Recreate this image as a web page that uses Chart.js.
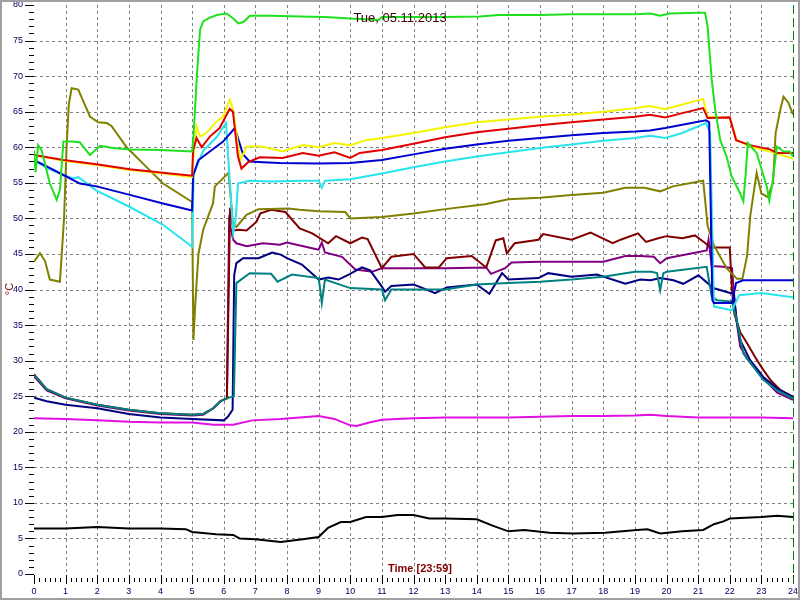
<!DOCTYPE html>
<html lang="en">
<head>
    <meta charset="UTF-8">
    <title>Tue, 05.11.2013</title>
    <script src="https://cdn.jsdelivr.net/npm/chart.js"></script>
    <style>
        html, body { margin: 0; padding: 0; background: #fff; }
        #wrap { width: 800px; height: 600px; }
    </style>
</head>
<body>
    <div id="wrap"><canvas id="tempChart" width="800" height="600"></canvas></div>

    <script>
        const chartTitle = 'Tue, 05.11.2013';
        const timeTitle = 'Time [23:59]';
        const tempTitle = '°C';

        // axis ranges / tick steps
        const hourTicks = [0, 24, 1];
        const tempTicks = [0, 80, 5];

        // sensor readings: hour of day / temperature
        const limeHours = [0, 0.05, 0.13, 0.24, 0.5, 0.72, 0.82, 0.93, 1.2, 1.45, 1.77, 2.09, 2.5, 3.04, 4.0, 5.0, 5.05, 5.15, 5.25, 5.35, 5.55, 5.78, 6.09, 6.3, 6.46, 6.62, 6.83, 7.5, 8.4, 9.2, 10.0, 10.9, 11.0, 12.0, 13.0, 14.1, 14.7, 16.0, 17.0, 18.0, 19.0, 19.5, 19.8, 20.1, 21.0, 21.22, 21.3, 21.43, 21.54, 21.7, 21.9, 22.06, 22.33, 22.43, 22.5, 22.57, 22.85, 23.17, 23.25, 23.35, 23.49, 23.7, 23.9, 24.0];
        const limeTemps = [59.5, 56.5, 60.3, 59.6, 54.9, 52.6, 54.0, 60.8, 60.8, 60.7, 58.9, 60.2, 59.9, 59.7, 59.6, 59.4, 62, 70, 76.5, 77.7, 78.2, 78.6, 78.8, 78.1, 77.4, 77.6, 78.5, 78.5, 78.4, 78.3, 78.1, 77.9, 78.3, 78.3, 78.3, 78.4, 78.6, 78.6, 78.7, 78.7, 78.7, 78.8, 78.5, 78.8, 78.9, 78.9, 77, 69.5, 65.3, 61.0, 58.7, 55.9, 53.5, 52.4, 56, 60.6, 59.2, 54.5, 52.5, 55, 60.1, 59.4, 59.4, 58.7];

        const yellowHours = [0, 0.93, 1.98, 3.03, 4.08, 5.0, 5.03, 5.14, 5.25, 5.45, 5.77, 5.98, 6.19, 6.29, 6.52, 6.73, 7.2, 7.86, 8.5, 9.0, 9.5, 10.0, 10.5, 11, 12, 13, 14, 15, 16, 17, 18, 19, 19.48, 19.96, 20.5, 21.16, 21.3, 22.0, 22.22, 22.64, 23.27, 24.0];
        const yellowTemps = [58.9, 58.1, 57.5, 56.8, 56.3, 55.8, 58.1, 62.9, 61.5, 62.0, 63.6, 64.3, 66.7, 65.4, 58.2, 60.1, 60.1, 59.4, 60.3, 60.0, 60.6, 60.3, 61.0, 61.3, 62.0, 62.8, 63.5, 63.9, 64.3, 64.6, 65.0, 65.5, 65.8, 65.35, 66.0, 66.8, 64.3, 64.1, 61.0, 60.1, 59.4, 58.4];

        const redHours = [0, 0.93, 1.98, 3.03, 4.08, 5.0, 5.03, 5.14, 5.3, 5.56, 5.87, 6.19, 6.29, 6.45, 6.56, 6.77, 7.14, 7.86, 8.5, 9.0, 9.5, 10.0, 10.3, 11, 12, 13, 14, 15, 16, 17, 18, 19, 19.48, 19.96, 20.5, 21.16, 21.3, 22.0, 22.2, 22.64, 23.27, 23.5, 24];
        const redTemps = [58.9, 58.2, 57.6, 56.9, 56.4, 56.0, 59.5, 61.3, 60.0, 61.5, 62.7, 65.4, 65.0, 58.7, 57.0, 57.9, 58.6, 58.5, 59.2, 58.8, 59.3, 58.5, 59.2, 59.6, 60.5, 61.4, 62.1, 62.6, 63.1, 63.5, 63.9, 64.3, 64.56, 64.2, 64.8, 65.5, 64.1, 64.2, 61.0, 60.3, 59.7, 59.2, 59.2];

        const blueHours = [0, 0.4, 0.93, 1.45, 1.98, 3.03, 4.08, 5.0, 5.03, 5.2, 5.56, 5.98, 6.35, 6.61, 6.82, 7.24, 7.77, 9, 10, 11, 12, 13, 14, 15, 16, 17, 18, 19, 19.48, 19.96, 20.5, 21.25, 21.35, 21.45, 21.5, 22.07, 22.2, 22.42, 23, 24];
        const blueTemps = [58.2, 57.3, 56.1, 54.9, 54.5, 53.3, 52.1, 51.1, 56.0, 58.2, 59.4, 60.8, 62.7, 59.0, 58.0, 57.9, 57.8, 57.7, 57.8, 58.2, 59.0, 59.8, 60.4, 60.9, 61.3, 61.7, 62.0, 62.2, 62.35, 62.7, 63.15, 63.8, 63.5, 38.5, 38.1, 38.1, 40.9, 41.3, 41.3, 41.3];

        const cyanHours = [0, 0.4, 0.93, 1.24, 1.4, 1.98, 3.03, 4.08, 5.0, 5.05, 5.35, 5.77, 6.07, 6.15, 6.3, 6.38, 6.45, 6.8, 7.5, 8.5, 9.0, 9.1, 9.2, 10, 11, 12, 13, 14, 15, 16, 17, 18, 19, 19.48, 19.96, 20.5, 21.25, 21.38, 21.5, 22.07, 22.17, 22.3, 23.0, 24.0];
        const cyanTemps = [58.2, 57.1, 56.1, 55.6, 55.8, 53.9, 51.6, 49.1, 46.0, 56.3, 59.5, 61.4, 63.4, 58, 48, 50, 54.9, 55.3, 55.2, 55.3, 55.3, 54.3, 55.3, 55.5, 56.3, 57.2, 58.0, 58.7, 59.3, 59.9, 60.4, 60.9, 61.3, 61.6, 61.3, 62.0, 63.4, 62, 37.6, 37.1, 38, 39.2, 39.5, 38.9];

        const oliveHours = [0, 0.19, 0.35, 0.5, 0.82, 0.95, 1.03, 1.1, 1.19, 1.4, 1.77, 2.03, 2.3, 2.45, 2.93, 3.56, 4.08, 5.0, 5.04, 5.1, 5.2, 5.35, 5.66, 5.72, 6.15, 6.2, 6.29, 6.4, 6.72, 7.1, 8.05, 8.4, 9.0, 9.84, 10.0, 11.0, 12, 13, 14.26, 15, 16, 17, 18, 18.7, 19.3, 19.8, 20.2, 21.16, 21.3, 21.5, 21.9, 22.23, 22.4, 22.55, 22.65, 22.85, 23.0, 23.2, 23.37, 23.45, 23.6, 23.7, 23.85, 24.0];
        const oliveTemps = [43.9, 45.1, 44, 41.4, 41.1, 50, 60, 66, 68.3, 68.1, 64.3, 63.5, 63.4, 63.0, 60.0, 57.2, 54.9, 52.3, 32.9, 38, 45, 48.4, 52.1, 54.5, 56.4, 54, 49.3, 48.8, 50.5, 51.3, 51.4, 51.2, 51.0, 50.9, 50.0, 50.2, 50.7, 51.3, 52.0, 52.7, 52.9, 53.3, 53.6, 54.3, 54.3, 53.8, 54.5, 55.3, 49.0, 46.2, 43.0, 41.5, 41.5, 44.8, 50.4, 56.4, 53.5, 53, 55, 62.0, 65.3, 67.1, 66.3, 64.6];

        const maroonHours = [0, 0.4, 1, 2, 3, 4, 5, 5.35, 5.67, 5.9, 6.1, 6.2, 6.3, 6.47, 6.72, 7.03, 7.16, 7.5, 7.95, 8.4, 8.8, 9.3, 9.55, 10.0, 10.37, 10.55, 11.0, 11.3, 12.0, 12.37, 12.8, 13.05, 13.84, 14.3, 14.6, 14.84, 14.95, 15.2, 15.95, 16.1, 17.0, 17.6, 18.3, 18.55, 19.1, 19.35, 19.74, 20.0, 20.5, 20.9, 21.2, 21.4, 22.0, 22.07, 22.15, 22.33, 22.54, 22.8, 23.06, 23.3, 23.59, 24];
        const maroonTemps = [28.1, 26.0, 24.8, 23.8, 23.1, 22.6, 22.4, 22.5, 23.3, 24.3, 24.7, 51.5, 48.3, 48.4, 48.3, 49.5, 50.7, 51.2, 50.9, 48.6, 47.9, 46.5, 47.5, 46.5, 47.3, 47.1, 43.0, 44.6, 45.0, 43.1, 43.1, 44.4, 44.7, 43.1, 46.9, 47.2, 45.1, 46.5, 47.0, 47.8, 47.0, 48.0, 46.5, 47.0, 47.9, 46.7, 47.2, 47.5, 47.2, 47.6, 46.6, 45.9, 45.9, 40, 36.5, 34, 32.5, 30.5, 28.7, 27.2, 25.9, 24.9];

        const purpleHours = [0, 0.4, 1, 2, 3, 4, 5, 5.35, 5.67, 5.9, 6.1, 6.17, 6.3, 6.4, 6.72, 7.24, 7.77, 8.0, 8.9, 9.0, 9.1, 9.2, 9.74, 10.16, 10.7, 11.0, 12, 13, 14.3, 14.45, 14.9, 15.1, 16, 17, 18, 18.7, 19.17, 19.6, 19.8, 20.01, 21.27, 21.33, 21.43, 21.8, 22.07, 22.2, 22.33, 22.54, 23.06, 23.5, 24];
        const purpleTemps = [27.8, 25.8, 24.7, 23.7, 23.0, 22.5, 22.3, 22.4, 23.3, 24.3, 24.7, 49.5, 47, 46.5, 46.1, 46.5, 46.3, 46.6, 45.7, 45.6, 46.6, 45.2, 44.6, 42.8, 42.5, 43.0, 43.0, 43.0, 43.1, 42.2, 43.0, 43.8, 43.9, 43.9, 43.9, 44.7, 44.7, 44.6, 43.7, 44.4, 45.5, 47.0, 43.3, 43.2, 43.0, 36, 32.0, 30.3, 27.5, 25.5, 24.5];

        const navyHours = [0, 0.4, 1, 2, 3, 4, 5, 6.0, 6.13, 6.28, 6.33, 6.4, 6.61, 7.1, 7.53, 7.8, 8.0, 8.47, 8.8, 9.0, 9.3, 9.63, 9.95, 10.37, 10.63, 11.0, 11.1, 11.3, 12.0, 12.3, 12.68, 13.05, 14.0, 14.4, 14.8, 15.0, 15.95, 16.26, 17.0, 17.8, 18.7, 19.17, 19.5, 19.8, 20.22, 20.53, 21.01, 21.48, 22.01, 22.12, 22.22, 22.33, 22.64, 23.06, 23.49, 24.0];
        const navyTemps = [24.8, 24.3, 23.8, 23.3, 22.5, 22.0, 21.8, 21.6, 22.1, 23.1, 42, 43.7, 44.4, 44.4, 45.2, 44.9, 44.4, 43.5, 42.2, 41.4, 41.7, 41.4, 42.1, 43.1, 42.7, 40.4, 39.7, 40.5, 40.7, 40.2, 39.5, 40.3, 40.7, 39.4, 42.3, 41.4, 41.6, 42.3, 41.8, 42.1, 40.8, 41.4, 41.3, 41.6, 41.3, 40.8, 42.0, 40.2, 39.5, 39.5, 35.7, 32.9, 30.1, 27.7, 26.1, 24.9];

        const tealHours = [0, 0.4, 1, 2, 3, 4, 5, 5.35, 5.67, 5.9, 6.1, 6.25, 6.32, 6.4, 6.82, 7.5, 7.7, 8.16, 9.0, 9.05, 9.1, 9.2, 10.0, 11.0, 11.1, 11.3, 12, 13, 14, 15, 16, 17, 18, 19.0, 19.53, 19.7, 19.8, 19.9, 20.01, 21.27, 21.43, 21.59, 22.07, 22.17, 22.43, 23.06, 23.5, 24.0];
        const tealTemps = [28.0, 26.0, 24.8, 23.8, 23.1, 22.6, 22.4, 22.5, 23.3, 24.3, 24.7, 24.9, 25, 40.9, 42.3, 42.2, 41.1, 42.1, 41.6, 40, 38.1, 41.4, 40.2, 40.0, 38.5, 40.0, 40.0, 40.0, 40.7, 40.9, 41.1, 41.4, 41.8, 42.5, 42.5, 42.3, 39.9, 42.3, 42.5, 43.2, 39.0, 38.5, 38.3, 36.7, 31.0, 27.3, 25.8, 24.7];

        const magentaHours = [0, 1, 2, 3, 4, 5, 5.67, 6.3, 6.9, 7.8, 9.0, 9.5, 10.0, 10.2, 10.6, 11, 12, 13, 14, 15, 16, 17, 18, 19, 19.5, 20, 21, 22, 23, 24];
        const magentaTemps = [21.9, 21.8, 21.6, 21.4, 21.3, 21.3, 21.0, 21.0, 21.6, 21.8, 22.2, 21.8, 20.9, 20.8, 21.3, 21.7, 21.9, 22.0, 22.0, 22.0, 22.1, 22.2, 22.2, 22.3, 22.4, 22.2, 22.0, 22.0, 22.0, 21.9];

        const blackHours = [0, 1, 2, 3, 4, 4.8, 5.0, 5.76, 6.3, 6.5, 7.0, 7.8, 8.5, 9.0, 9.3, 9.7, 10.0, 10.5, 11, 11.5, 12, 12.5, 13, 14, 14.5, 15, 15.5, 16.3, 17.05, 18.06, 19.06, 19.4, 19.8, 20.5, 21.16, 21.5, 21.8, 22, 23, 23.5, 24];
        const blackTemps = [6.4, 6.4, 6.6, 6.4, 6.4, 6.3, 5.9, 5.6, 5.5, 5.0, 4.9, 4.5, 4.9, 5.2, 6.5, 7.3, 7.3, 8.0, 8.0, 8.3, 8.3, 7.8, 7.8, 7.7, 6.8, 6.0, 6.2, 5.8, 5.7, 5.8, 6.2, 6.3, 5.7, 6.0, 6.2, 7.0, 7.4, 7.8, 8.0, 8.2, 8.0];

        // first entry is drawn on top
        const series = [
            [limeHours, limeTemps, '#1ee01e'],
            [redHours, redTemps, '#e00000'],
            [yellowHours, yellowTemps, '#f4f400'],
            [blueHours, blueTemps, '#0000d0'],
            [cyanHours, cyanTemps, '#28e4ee'],
            [oliveHours, oliveTemps, '#808000'],
            [tealHours, tealTemps, '#008080'],
            [navyHours, navyTemps, '#000080'],
            [maroonHours, maroonTemps, '#800000'],
            [purpleHours, purpleTemps, '#800080'],
            [magentaHours, magentaTemps, '#e010e0'],
            [blackHours, blackTemps, '#000000']
        ];

        function line(ctx, x1, y1, x2, y2) {
            ctx.beginPath();
            ctx.moveTo(x1, y1);
            ctx.lineTo(x2, y2);
            ctx.stroke();
        }

        // dashed grid, axis tick marks, marker line, titles and frame
        const decorations = {
            id: 'decorations',
            beforeDatasetsDraw(chart) {
                const { ctx, chartArea: a, scales: { x, y } } = chart;
                ctx.save();
                ctx.strokeStyle = '#808080';
                ctx.lineWidth = 1;
                ctx.setLineDash([3, 3]);
                for (let v = tempTicks[0] + tempTicks[2]; v < tempTicks[1]; v += tempTicks[2]) {
                    const py = Math.round(y.getPixelForValue(v)) + 0.5;
                    line(ctx, a.left, py, a.right, py);
                }
                for (let h = hourTicks[0] + hourTicks[2]; h < hourTicks[1]; h += hourTicks[2]) {
                    const px = Math.round(x.getPixelForValue(h)) + 0.5;
                    line(ctx, px, a.top, px, a.bottom);
                }
                ctx.restore();
            },
            afterDatasetsDraw(chart) {
                const { ctx, chartArea: a, scales: { x, y } } = chart;
                ctx.save();
                ctx.strokeStyle = '#000';
                ctx.lineWidth = 1;
                for (let v = tempTicks[0]; v <= tempTicks[1]; v++) {
                    const py = Math.round(y.getPixelForValue(v)) + 0.5;
                    const len = v % tempTicks[2] === 0 ? 9 : 5;
                    line(ctx, a.left - len, py, a.left, py);
                }
                for (let i = 0; i <= hourTicks[1] * 6; i++) {
                    const px = Math.round(x.getPixelForValue(i / 6)) + 0.5;
                    if (i % 6 === 0) line(ctx, px, a.bottom + 1, px, a.bottom + 10);
                    else line(ctx, px, a.bottom + 4, px, a.bottom + 8);
                }

                // end-of-day marker
                ctx.strokeStyle = '#008000';
                ctx.setLineDash([9, 4]);
                const endX = Math.round(x.getPixelForValue(hourTicks[1])) + 0.5;
                line(ctx, endX, a.top, endX, a.bottom + 10);
                ctx.setLineDash([]);

                ctx.fillStyle = '#400000';
                ctx.font = '13px Arial, "Liberation Sans", sans-serif';
                ctx.textAlign = 'center';
                ctx.textBaseline = 'alphabetic';
                ctx.fillText(chartTitle, 400, 22);

                ctx.fillStyle = '#800000';
                ctx.font = 'bold 11px Arial, "Liberation Sans", sans-serif';
                ctx.fillText(timeTitle, 420, 572);

                ctx.save();
                ctx.translate(13, 289);
                ctx.rotate(-Math.PI / 2);
                ctx.font = '11px Arial, "Liberation Sans", sans-serif';
                ctx.fillText(tempTitle, 0, 0);
                ctx.restore();

                ctx.strokeStyle = '#a0a0a0';
                ctx.lineWidth = 2;
                ctx.strokeRect(1, 1, 798, 598);
                ctx.restore();
            }
        };

        const ctx = document.getElementById('tempChart').getContext('2d');
        const chartInstance = new Chart(ctx, {
            type: 'line',
            data: {
                datasets: series.map(([hours, temps, color]) => ({
                    data: hours.map((h, i) => ({ x: h, y: temps[i] })),
                    borderColor: color,
                    borderWidth: 2,
                    pointRadius: 0,
                    tension: 0,
                    fill: false
                }))
            },
            options: {
                responsive: false,
                animation: false,
                devicePixelRatio: 1,
                layout: { padding: { top: 5, right: 7, left: 0, bottom: 0 } },
                plugins: {
                    legend: { display: false },
                    tooltip: { enabled: false }
                },
                scales: {
                    x: {
                        type: 'linear',
                        min: hourTicks[0],
                        max: hourTicks[1],
                        grid: { display: false, drawTicks: false },
                        border: { display: false },
                        ticks: {
                            stepSize: hourTicks[2],
                            autoSkip: false,
                            maxRotation: 0,
                            padding: 12,
                            color: '#000060',
                            font: { family: 'Arial, "Liberation Sans", sans-serif', size: 9 }
                        },
                        afterFit: s => { s.height = 26; s.paddingLeft = 0; s.paddingRight = 0; }
                    },
                    y: {
                        min: tempTicks[0],
                        max: tempTicks[1],
                        grid: { display: false, drawTicks: false },
                        border: { display: false },
                        ticks: {
                            stepSize: tempTicks[2],
                            padding: 11,
                            color: '#000060',
                            font: { family: 'Arial, "Liberation Sans", sans-serif', size: 9 }
                        },
                        afterFit: s => { s.width = 34; s.paddingTop = 0; s.paddingBottom = 0; }
                    }
                }
            },
            plugins: [decorations]
        });
    </script>
</body>
</html>
